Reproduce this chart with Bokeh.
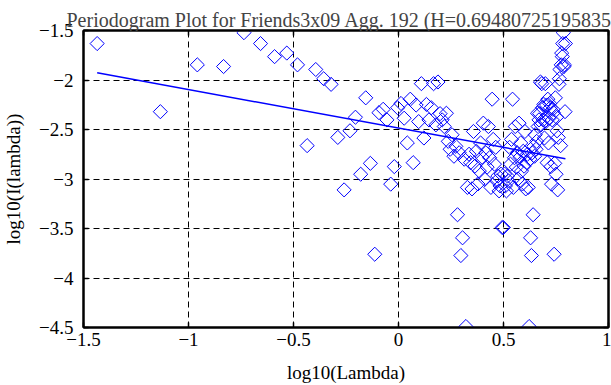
from bokeh.plotting import figure
from bokeh.models import LinearAxis, FixedTicker
from bokeh.embed import file_html
from bokeh.resources import INLINE

# ---- data ----
log_lambda = [
    -1.435, -1.134, -0.958, -0.833, -0.736, -0.657, -0.590, -0.532, -0.481, -0.435,
    -0.394, -0.356, -0.321, -0.289, -0.259, -0.231, -0.205, -0.180, -0.156, -0.134,
    -0.113, -0.093, -0.073, -0.055, -0.037, -0.020, -0.004, 0.012, 0.027, 0.042,
    0.056, 0.070, 0.084, 0.096, 0.109, 0.121, 0.133, 0.145, 0.156, 0.167,
    0.178, 0.188, 0.198, 0.208, 0.218, 0.228, 0.237, 0.246, 0.255, 0.264,
    0.273, 0.281, 0.289, 0.297, 0.305, 0.313, 0.321, 0.328, 0.336, 0.343,
    0.350, 0.357, 0.364, 0.371, 0.378, 0.385, 0.391, 0.398, 0.404, 0.410,
    0.416, 0.422, 0.428, 0.434, 0.440, 0.446, 0.451, 0.457, 0.463, 0.468,
    0.473, 0.479, 0.484, 0.489, 0.494, 0.499, 0.505, 0.509, 0.514, 0.519,
    0.524, 0.529, 0.533, 0.538, 0.543, 0.547, 0.552, 0.556, 0.561, 0.565,
    0.569, 0.574, 0.578, 0.582, 0.586, 0.590, 0.594, 0.598, 0.602, 0.606,
    0.610, 0.614, 0.618, 0.622, 0.626, 0.629, 0.633, 0.637, 0.641, 0.644,
    0.648, 0.651, 0.655, 0.658, 0.662, 0.665, 0.669, 0.672, 0.676, 0.679,
    0.682, 0.686, 0.689, 0.692, 0.695, 0.699, 0.702, 0.705, 0.708, 0.711,
    0.714, 0.717, 0.720, 0.723, 0.726, 0.729, 0.732, 0.735, 0.738, 0.741,
    0.744, 0.747, 0.750, 0.753, 0.755, 0.758, 0.761, 0.764, 0.766, 0.769,
    0.772, 0.775, 0.777, 0.780, 0.782, 0.785, 0.788, 0.790, 0.793, 0.795,
]

log_periodogram = [
    -1.632, -2.320, -1.847, -1.864, -1.522, -1.632, -1.764, -1.728, -1.847, -2.663,
    -1.894, -1.987, -2.044, -2.580, -3.110, -2.513, -2.376, -2.952, -2.180, -2.842,
    -3.760, -2.330, -2.296, -2.403, -3.052, -2.875, -2.280, -2.237, -2.386, -2.636,
    -2.194, -2.835, -2.253, -2.420, -2.037, -2.586, -2.247, -2.403, -2.280, -2.037,
    -2.453, -2.020, -2.340, -2.403, -2.470, -2.336, -2.620, -2.700, -2.553, -2.770,
    -2.670, -3.361, -2.735, -3.773, -3.594, -2.800, -4.490, -3.085, -2.750, -2.835,
    -3.100, -2.520, -2.870, -2.720, -3.050, -2.920, -2.636, -2.780, -2.436, -3.000,
    -2.735, -2.880, -2.470, -2.785, -3.085, -2.194, -2.600, -2.850, -2.680, -3.020,
    -2.970, -3.120, -3.070, -2.950, -3.490,
    -3.490, -2.950, -3.070, -3.120, -2.970,
    -3.020, -2.680, -2.850, -2.600, -2.194, -3.085, -2.785, -2.470, -2.880, -2.735,
    -3.000, -2.436, -2.780, -2.636, -2.920, -3.050, -2.720, -2.870, -2.520, -3.100,
    -2.835, -2.750, -3.085, -4.490, -2.800, -3.594, -3.773, -2.735, -3.361, -2.670,
    -2.770, -2.553, -2.700, -2.620, -2.336, -2.470, -2.403, -2.340, -2.020, -2.453,
    -2.037, -2.280, -2.403, -2.247, -2.586, -2.037, -2.420, -2.253, -2.835, -2.194,
    -2.636, -2.386, -2.237, -2.280, -2.875, -3.052, -2.403, -2.296, -2.330, -3.760,
    -2.842, -2.180, -2.952, -2.376, -2.513, -3.110, -2.580, -2.044, -1.987, -1.894,
    -2.663, -1.847, -1.728, -1.764, -1.632, -1.522, -1.864, -1.847, -2.320, -1.632,
]

hurst = 0.69480725195835
fit_intercept = -2.486

x_ticks = [-1.5, -1.0, -0.5, 0.0, 0.5, 1.0]
x_tick_labels = ["\u22121.5", "\u22121", "\u22120.5", "0", "0.5", "1"]
y_ticks = [-4.5, -4.0, -3.5, -3.0, -2.5, -2.0, -1.5]
y_tick_labels = ["\u22124.5", "\u22124", "\u22123.5", "\u22123", "\u22122.5", "\u22122", "\u22121.5"]

title_text = "Periodogram Plot for Friends3x09 Agg. 192 (H=0.69480725195835"
x_label = "log10(Lambda)"
y_label = "log10(I(lambda))"

FONT = "Liberation Serif"
FS = "19px"
BLUE = "#0000ff"

p = figure(width=611, height=385, x_range=(-1.5, 1.0), y_range=(-4.5, -1.5),
           output_backend="svg", toolbar_location=None,
           min_border_left=81, min_border_right=3, min_border_top=30, min_border_bottom=55)
p.background_fill_color = "white"
p.border_fill_color = "white"
p.outline_line_color = "black"
p.outline_line_width = 2

p.title.text = title_text
p.title.text_font = FONT
p.title.text_font_size = "20px"
p.title.text_font_style = "normal"
p.title.align = "left"
p.title.offset = -17
p.title.standoff = 0

def style_axis(ax, ticks, labels, show_labels=True):
    ax.ticker = FixedTicker(ticks=ticks)
    ax.major_label_overrides = {t: l for t, l in zip(ticks, labels)}
    ax.axis_line_color = "black"
    ax.axis_line_width = 2
    ax.major_tick_in = 5
    ax.major_tick_out = 0
    ax.major_tick_line_color = "black"
    ax.major_tick_line_width = 1.5
    ax.minor_tick_line_color = None
    ax.major_label_text_font = FONT
    ax.major_label_text_color = "black"
    if show_labels:
        ax.major_label_text_font_size = FS
    else:
        ax.major_label_text_font_size = "0px"
        ax.major_label_standoff = 0

style_axis(p.xaxis[0], x_ticks, x_tick_labels)
style_axis(p.yaxis[0], y_ticks, y_tick_labels)
p.xaxis[0].major_label_standoff = 5
p.yaxis[0].major_label_standoff = 10
p.xaxis[0].axis_label = x_label
p.yaxis[0].axis_label = y_label
for ax in (p.xaxis[0], p.yaxis[0]):
    ax.axis_label_text_font = FONT
    ax.axis_label_text_font_size = FS
    ax.axis_label_text_font_style = "normal"
    ax.axis_label_text_color = "black"
p.xaxis[0].axis_label_standoff = 13
p.yaxis[0].axis_label_standoff = 12

top_ax = LinearAxis()
style_axis(top_ax, x_ticks, [""] * len(x_ticks), show_labels=False)
p.add_layout(top_ax, "above")
right_ax = LinearAxis()
style_axis(right_ax, y_ticks, [""] * len(y_ticks), show_labels=False)
p.add_layout(right_ax, "right")

for g in (p.xgrid[0], p.ygrid[0]):
    g.grid_line_color = "black"
    g.grid_line_dash = "6 4"
    g.grid_line_width = 1
p.xgrid[0].ticker = FixedTicker(ticks=x_ticks)
p.ygrid[0].ticker = FixedTicker(ticks=y_ticks)

p.scatter(log_lambda, log_periodogram, marker="square", angle=0.785398, size=10,
          fill_color=None, line_color=BLUE, line_width=1)

slope = 1 - 2 * hurst
fit_x = [min(log_lambda), max(log_lambda)]
fit_y = [fit_intercept + slope * v for v in fit_x]
p.line(fit_x, fit_y, line_color=BLUE, line_width=1.5)

open("out.html", "w").write(file_html(p, INLINE))
